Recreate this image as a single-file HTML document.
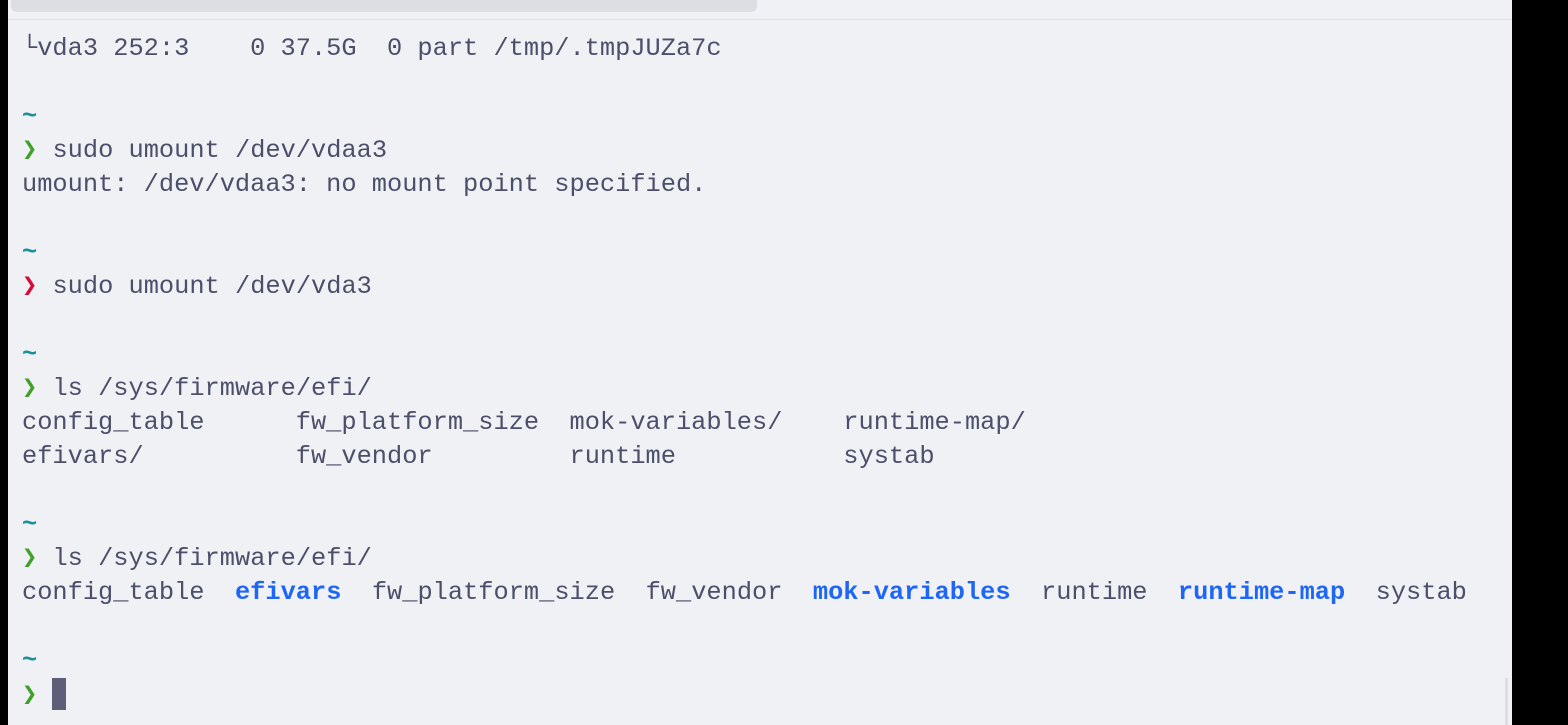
<!DOCTYPE html>
<html><head><meta charset="utf-8"><style>
html,body{margin:0;padding:0;}
body{width:1568px;height:725px;background:#eff1f5;position:relative;overflow:hidden;}
.lb{position:absolute;left:0;top:0;width:8px;height:725px;background:#000;}
.rb{position:absolute;left:1512px;top:0;width:56px;height:725px;background:#000;}
.tab{position:absolute;left:11px;top:-10px;width:746px;height:22px;background:#dcdee3;border-radius:6px;}
.sep{position:absolute;left:8px;top:19px;width:1504px;height:1px;background:#dfe1e6;}
.sb{position:absolute;left:1505px;top:678px;width:3px;height:47px;background:#dcdee3;}
pre{position:absolute;left:22px;top:32px;margin:0;font-family:"Liberation Mono",monospace;font-size:25.35px;line-height:34px;color:#4c4f69;}
.g{color:#40a02b;font-weight:bold}.r{color:#d20f39;font-weight:bold}.t{color:#179299;font-weight:bold}.b{color:#1e66f5;font-weight:bold}
.cur{display:inline-block;width:14px;height:32px;background:#5c5f77;vertical-align:-8px;}
</style></head><body>
<div class="lb"></div><div class="tab"></div><div class="sep"></div>
<pre>└vda3 252:3    0 37.5G  0 part /tmp/.tmpJUZa7c

<span class="t">~</span>
<span class="g">❯</span> sudo umount /dev/vdaa3
umount: /dev/vdaa3: no mount point specified.

<span class="t">~</span>
<span class="r">❯</span> sudo umount /dev/vda3

<span class="t">~</span>
<span class="g">❯</span> ls /sys/firmware/efi/
config_table      fw_platform_size  mok-variables/    runtime-map/
efivars/          fw_vendor         runtime           systab

<span class="t">~</span>
<span class="g">❯</span> ls /sys/firmware/efi/
config_table  <span class="b">efivars</span>  fw_platform_size  fw_vendor  <span class="b">mok-variables</span>  runtime  <span class="b">runtime-map</span>  systab

<span class="t">~</span>
<span class="g">❯</span> <span class="cur"></span></pre>
<div class="sb"></div><div class="rb"></div>
</body></html>
